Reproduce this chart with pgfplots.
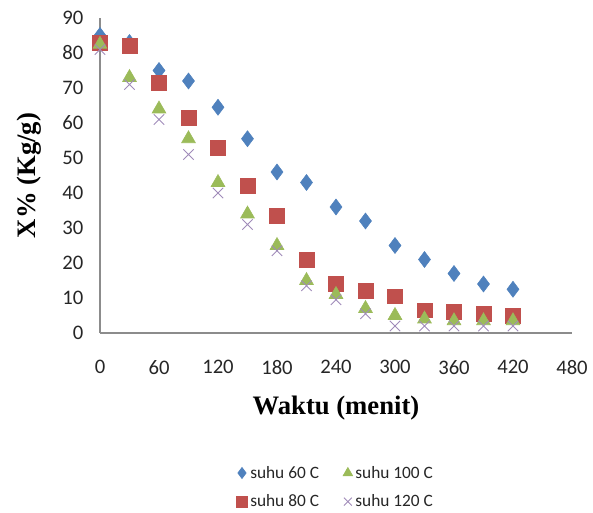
\documentclass[border=0pt]{standalone}
\usepackage{pgfplots}
\pgfplotsset{compat=1.18}
\usepackage{fontspec}
\setmainfont{Carlito}
\newfontfamily\serifb{Liberation Serif}
\definecolor{c60}{HTML}{4F81BD}
\definecolor{c80}{HTML}{C0504D}
\definecolor{c100}{HTML}{9BBB59}
\definecolor{c120}{HTML}{8064A2}
\definecolor{axgray}{HTML}{8C8C8C}
\begin{document}
\begin{tikzpicture}
\useasboundingbox (-75pt,-135pt) rectangle (369.75pt,249.75pt);
\begin{axis}[
  at={(0,0)}, anchor=south west,
  scale only axis, width=354pt, height=236.25pt,
  xmin=0, xmax=480, ymin=0, ymax=90,
  xtick={0,60,...,480}, ytick={0,10,...,90},
  axis lines=left, axis line style={draw=axgray, line width=0.8pt, -},
  major tick length=0pt,
  /pgf/number format/assume math mode=true,
  tick label style={font=\fontsize{15.5}{17}\selectfont, text=black!85},
  yticklabel style={xshift=-9pt},
  xticklabel style={yshift=-17pt},
  xlabel={\serifb\bfseries Waktu (menit)},
  ylabel={\serifb\bfseries X\% (Kg/g)},
  label style={font=\fontsize{20}{22}\selectfont},
  xlabel style={at={(axis description cs:0.5,-0.238)}, anchor=center},
  ylabel style={at={(axis description cs:-0.15,0.5)}, anchor=center, rotate=0},
  legend columns=2, transpose legend,
  legend image post style={mark size=4.2pt},
  legend style={at={(axis description cs:0.5,-0.49)}, anchor=center, draw=none,
    font=\fontsize{13}{14}\selectfont, row sep=7pt, text=black!85,
    /tikz/every even column/.append style={column sep=16pt}},
  legend cell align=left,
  clip=false,
]
\addplot[only marks, mark=diamond*, mark size=6pt, color=c60, mark options={fill=c60, draw=c60}] coordinates {
(0,85) (30,83) (60,75) (90,72) (120,64.5) (150,55.5) (180,46) (210,43) (240,36) (270,32) (300,25) (330,21) (360,17) (390,14) (420,12.5)};
\addlegendentry{suhu 60 C}
\addplot[only marks, mark=square*, mark size=5.6pt, color=c80, mark options={fill=c80, draw=c80}] coordinates {
(0,83) (30,82) (60,71.5) (90,61.5) (120,53) (150,42) (180,33.5) (210,21) (240,14) (270,12) (300,10.5) (330,6.5) (360,6) (390,5.5) (420,5)};
\addlegendentry{suhu 80 C}
\addplot[only marks, mark=triangle*, mark size=6pt, color=c100, mark options={fill=c100, draw=c100}] coordinates {
(0,82.5) (30,73) (60,64) (90,55.5) (120,43) (150,34) (180,25) (210,15) (240,11) (270,7) (300,5) (330,4) (360,3.5) (390,3.5) (420,3.5)};
\addlegendentry{suhu 100 C}
\addplot[only marks, mark=x, mark size=5.5pt, color=c120!75, mark options={line width=0.7pt}] coordinates {
(0,81) (30,71) (60,61) (90,51) (120,40) (150,31) (180,23.5) (210,13.5) (240,9.5) (270,5.5) (300,2) (330,2) (360,2) (390,2) (420,2)};
\addlegendentry{suhu 120 C}
\end{axis}
\end{tikzpicture}
\end{document}
